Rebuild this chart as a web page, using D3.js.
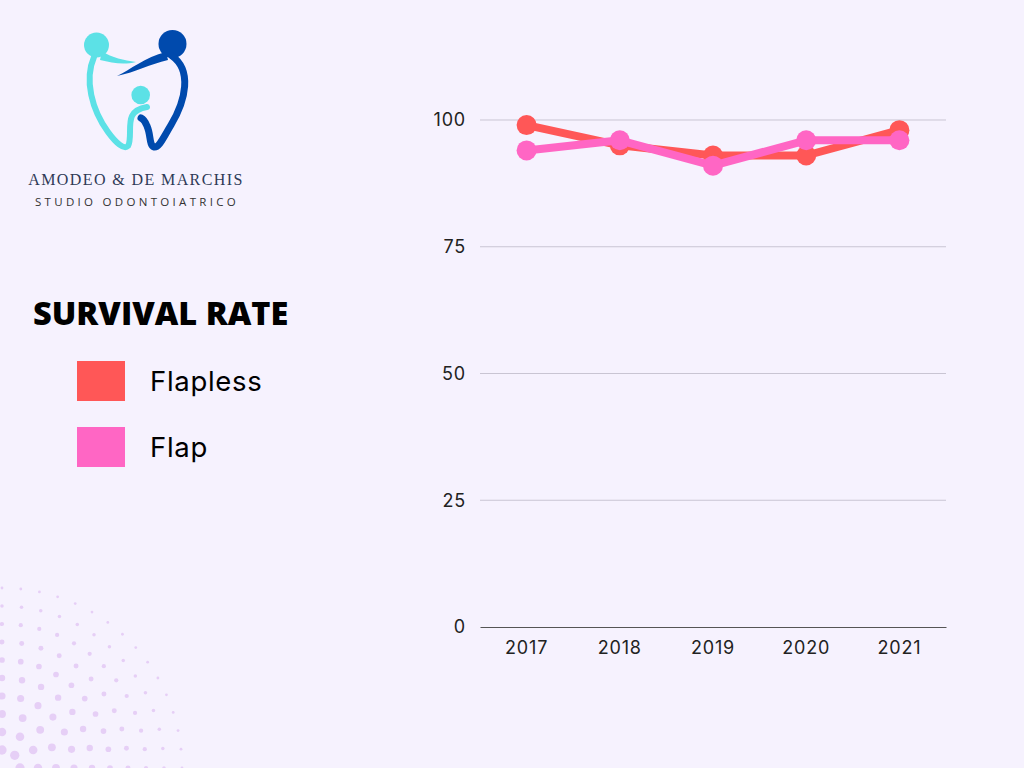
<!DOCTYPE html>
<html><head><meta charset="utf-8">
<script src="https://cdn.jsdelivr.net/npm/d3@7"></script>
<style>html,body{margin:0;padding:0;background:#f6f2fe;}svg{display:block;}</style>
</head><body>
<svg id="c" width="1024" height="768"></svg>
<script>
const years = ["2017","2018","2019","2020","2021"];
const flapless = [99, 95, 93, 93, 98];
const flap = [94, 96, 91, 96, 96];
const yTicks = [0, 25, 50, 75, 100];
const seriesNames = ["Flapless", "Flap"];
const seriesColors = ["#ff5757", "#ff66c4"];

const svg = d3.select("#c");
svg.append("rect").attr("width",1024).attr("height",768).attr("fill","#f6f2fe");

// decorative halftone dots bottom-left
const dots = svg.append("g");
for (let ring = 1; ring <= 10; ring++) {
  const r = ring * 18;
  const n = Math.max(2, Math.round((Math.PI/2 * r) / 19));
  for (let k = 0; k <= n; k++) {
    const a = (k / n) * Math.PI / 2;
    const x = 2 + r * Math.cos(a), y = 768 - r * Math.sin(a);
    const rad = Math.max(1.4, 5 - ring * 0.36);
    dots.append("circle").attr("cx", x).attr("cy", y).attr("r", rad).attr("fill", "#e6cff6");
  }
}

// logo
const logo = svg.append("g");
logo.append("circle").attr("cx",96.5).attr("cy",45).attr("r",12.5).attr("fill","#5ce1e6");
logo.append("circle").attr("cx",172.5).attr("cy",44).attr("r",14).attr("fill","#004aad");
logo.append("circle").attr("cx",140.7).attr("cy",95).attr("r",9.3).attr("fill","#5ce1e6");
logo.append("path").attr("d","M102,51 C112,58 124,60 136,62 C124,65 112,63 100,60 Z").attr("fill","#5ce1e6");
logo.append("path").attr("d","M94,57 C84,80 92,110 108,132 C116,143 124,150 128,146 C132,140 128,124 132,116 C135,110 141,108 147,107")
  .attr("fill","none").attr("stroke","#5ce1e6").attr("stroke-width",6).attr("stroke-linecap","round");
logo.append("path").attr("d","M117,76 C130,70 145,57 166,52 L168,60 C150,64 136,72 117,76 Z").attr("fill","#004aad");
logo.append("path").attr("d","M172,56 C192,70 186,100 171,125 C163,138 159,148 154,147 C149,145 151,135 147,126 C145,121 143,119 141,118")
  .attr("fill","none").attr("stroke","#004aad").attr("stroke-width",7).attr("stroke-linecap","round");
logo.append("text").attr("x",136).attr("y",185).attr("text-anchor","middle")
  .attr("font-family","Liberation Serif, serif").attr("font-size",16).attr("letter-spacing",1.4).attr("fill","#2e3a57").text("AMODEO & DE MARCHIS");
logo.append("text").attr("x",137).attr("y",206).attr("text-anchor","middle")
  .attr("font-family","Open Sans, sans-serif").attr("font-size",11.5).attr("letter-spacing",3.3).attr("fill","#333").text("STUDIO ODONTOIATRICO");

// title + legend
svg.append("text").attr("x",33).attr("y",325).attr("font-family","Open Sans, sans-serif").attr("font-weight",800)
  .attr("font-size",32.5).attr("fill","#000").text("SURVIVAL RATE");
const leg = svg.append("g");
seriesNames.forEach((s,i) => {
  leg.append("rect").attr("x",77).attr("y",361 + i*66).attr("width",48).attr("height",40).attr("fill",seriesColors[i]);
  leg.append("text").attr("x",150).attr("y",391 + i*66).attr("font-family","Inter, sans-serif")
    .attr("font-size",27.5).attr("letter-spacing",0.7).attr("fill","#000").text(s);
});

// chart
const x = d3.scaleBand().domain(years).range([480, 946]);
const y = d3.scaleLinear().domain([0, 100]).range([627, 120]);
const g = svg.append("g");
g.selectAll(".grid").data(yTicks.filter(t => t > 0)).join("line")
  .attr("x1",480).attr("x2",946).attr("y1",d=>y(d)).attr("y2",d=>y(d))
  .attr("stroke","#c9c5d3").attr("stroke-width",1);
const yAxis = g.append("g").attr("transform","translate(480,0)")
  .call(d3.axisLeft(y).tickValues(yTicks).tickSize(0).tickPadding(14));
yAxis.select(".domain").remove();
yAxis.selectAll("text").attr("font-family","Inter, sans-serif").attr("font-size",18).attr("letter-spacing",0.8).attr("fill","#222");
const xAxis = g.append("g").attr("transform","translate(0,627)")
  .call(d3.axisBottom(x).tickSize(0).tickPadding(14));
xAxis.select(".domain").attr("stroke","#555").attr("stroke-width",1.2);
xAxis.selectAll("text").attr("font-family","Inter, sans-serif").attr("font-size",18).attr("letter-spacing",0.8).attr("fill","#222");

const line = d3.line().x((d,i)=>x(years[i]) + x.bandwidth()/2).y(d=>y(d));
[flapless, flap].forEach((vals, si) => {
  g.append("path").datum(vals).attr("d", line).attr("fill","none")
    .attr("stroke", seriesColors[si]).attr("stroke-width", 8).attr("stroke-linejoin","round");
  g.selectAll(".p"+si).data(vals).join("circle")
    .attr("cx",(d,i)=>x(years[i]) + x.bandwidth()/2).attr("cy",d=>y(d)).attr("r",10).attr("fill",seriesColors[si]);
});
</script>
</body></html>
